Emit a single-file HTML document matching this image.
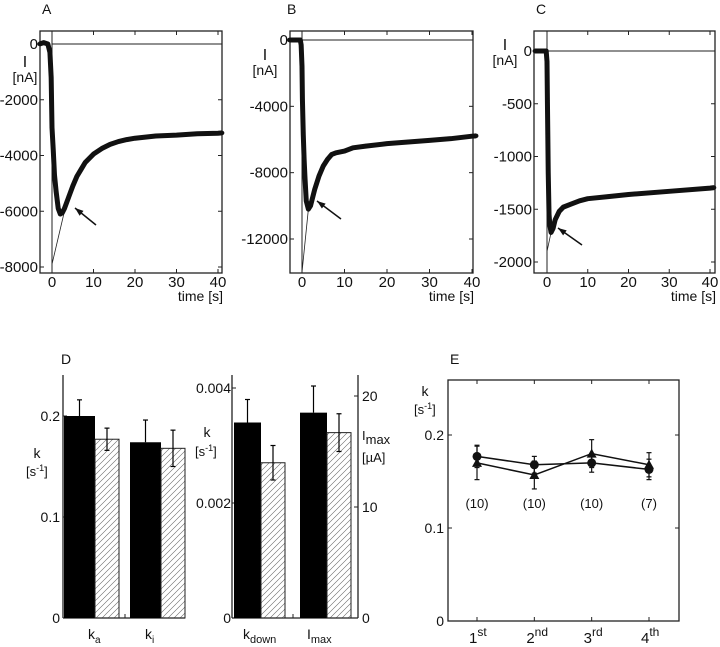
<!DOCTYPE html>
<html><head><meta charset="utf-8"><style>
body{margin:0;background:#fff;}
svg{display:block;font-family:"Liberation Sans",sans-serif;}
text{fill:#111;font-size:13px;}
</style></head><body>
<svg id="fig" width="720" height="647" viewBox="0 0 720 647" xmlns="http://www.w3.org/2000/svg">
<defs><pattern id="hatch" patternUnits="userSpaceOnUse" width="6" height="6"><path d="M0,6 L6,0 M-1,1 L1,-1 M5,7 L7,5" stroke="#666" stroke-width="0.6"/></pattern></defs>
</svg>
<script>
// ---- Panel A data ----
const aTimes=[-3,-2,-1,-0.5,-0.2,0,0.3,0.6,1,1.5,2,2.5,3,4,5,6,7,8,10,12,14,16,18,20,25,30,35,40,41];
const aValues=[0,50,0,-300,-1200,-3000,-3800,-4700,-5300,-5900,-6100,-6050,-5900,-5500,-5100,-4750,-4500,-4250,-3950,-3750,-3600,-3500,-3430,-3380,-3300,-3270,-3220,-3200,-3190];
const aFit=[[0,-7900],[3,-6000]];
const aYTicks=[0,-2000,-4000,-6000,-8000];
// ---- Panel B data ----
const bTimes=[-3,-2,-1,-0.4,-0.2,0,0.1,0.3,0.5,0.7,1,1.5,2,3,4,5,6,7,8,10,12,15,20,25,30,35,40,41];
const bValues=[0,0,0,0,-300,-1600,-3600,-5700,-7200,-8300,-9700,-10200,-10000,-9000,-8200,-7600,-7200,-6900,-6800,-6700,-6500,-6400,-6250,-6150,-6050,-5950,-5800,-5780];
const bFit=[[0,-14000],[1.5,-10200]];
const bYTicks=[0,-4000,-8000,-12000];
// ---- Panel C data ----
const cTimes=[-3,-2,-1,-0.4,-0.2,0,0.1,0.2,0.3,0.5,0.7,1,1.5,2,3,4,6,8,10,15,20,30,40,41];
const cValues=[0,0,0,0,0,-100,-470,-800,-1150,-1550,-1650,-1720,-1680,-1600,-1520,-1480,-1450,-1420,-1400,-1380,-1360,-1330,-1300,-1295];
const cFit=[[0,-1900],[1,-1720]];
const cYTicks=[0,-500,-1000,-1500,-2000];
const xTicks=[0,10,20,30,40];
// ---- Panel D data ----
const dCats=["ka","ki"];
const dBlack=[0.200,0.174];
const dBlackErr=[0.016,0.022];
const dHatch=[0.177,0.168];
const dHatchErr=[0.011,0.018];
const kdownVals=[0.0034,0.0027];
const kdownErr=[0.0004,0.0003];
const imaxVals=[18.5,16.7];
const imaxErr=[2.4,1.7];
// ---- Panel E data ----
const eCats=["1","2","3","4"];
const eCircle=[0.177,0.168,0.170,0.163];
const eCircleErr=[0.012,0.009,0.010,0.011];
const eTri=[0.170,0.157,0.180,0.168];
const eTriErr=[0.018,0.015,0.015,0.013];
const eN=["(10)","(10)","(10)","(7)"];

const NS="http://www.w3.org/2000/svg";
const svg=document.getElementById('fig');
function el(tag,attrs,parent){const e=document.createElementNS(NS,tag);for(const k in attrs)e.setAttribute(k,attrs[k]);(parent||svg).appendChild(e);return e;}
function txt(x,y,s,anchor,size,parent){const t=el('text',{x:x,y:y,'text-anchor':anchor||'start'},parent);if(size)t.style.fontSize=size+'px';t.textContent=s;return t;}
function lin(d0,d1,r0,r1){return v=>r0+(v-d0)*(r1-r0)/(d1-d0);}

function trace2(cfg){
  const L=cfg.L,R=cfg.R;
  const g=el('g',{});
  
  
  const X=lin(0,40,cfg.x0,cfg.x40), Y=lin(cfg.ya[0],cfg.ya[1],cfg.ypx[0],cfg.ypx[1]);
  const fr=el('rect',{x:L,y:cfg.T,width:R-L,height:cfg.B-cfg.T,fill:'none',stroke:'#222','stroke-width':1.3},g);
  
  el('line',{x1:X(0),x2:X(0),y1:cfg.T,y2:cfg.B,stroke:'#222','stroke-width':1},g);
  el('line',{x1:X(0),x2:R,y1:Y(0),y2:Y(0),stroke:'#222','stroke-width':1},g);
  xTicks.forEach(v=>{el('line',{x1:X(v),x2:X(v),y1:cfg.B,y2:cfg.B-4,stroke:'#222'},g);el('line',{x1:X(v),x2:X(v),y1:cfg.T,y2:cfg.T+4,stroke:'#222'},g);
    const t=txt(X(v),cfg.B+14,String(v),'middle',15,g);});
  cfg.yt.forEach(v=>{el('line',{x1:L,x2:L+4,y1:Y(v),y2:Y(v),stroke:'#222'},g);el('line',{x1:R,x2:R-4,y1:Y(v),y2:Y(v),stroke:'#222'},g);
    const t=txt(L-2,Y(v)+5,String(v),'end',15,g);});
  const f=el('line',{x1:X(cfg.fit[0][0]),y1:Y(cfg.fit[0][1]),x2:X(cfg.fit[1][0]),y2:Y(cfg.fit[1][1]),stroke:'#222','stroke-width':0.8},g);
  
  const pts=cfg.t.map((t,i)=>X(t)+','+Y(cfg.v[i])).join(' ');
  const pl=el('polyline',{points:pts,fill:'none',stroke:'#111','stroke-width':cfg.sw,'stroke-linejoin':'round'},g);
  
  cfg.t.forEach((t,i)=>{const c=el('circle',{cx:X(t),cy:Y(cfg.v[i]),r:2.2,fill:'#111'},g);});
  const a=cfg.arrow;
  const ar=el('line',{x1:a[0],y1:a[1],x2:a[2],y2:a[3],stroke:'#111','stroke-width':1.5},g);
  
  const ang=Math.atan2(a[3]-a[1],a[2]-a[0]);
  const hp=[[a[2],a[3]],[a[2]-9*Math.cos(ang-0.35),a[3]-9*Math.sin(ang-0.35)],[a[2]-9*Math.cos(ang+0.35),a[3]-9*Math.sin(ang+0.35)]];
  el('polygon',{points:hp.map(p=>p.join(',')).join(' '),fill:'#111'},g);
  const pl2=txt(cfg.lab[0],cfg.lab[1],cfg.letter,'start',14,g);
  const yl=txt(cfg.yl[0],cfg.yl[1],'I','middle',16,g);
  const yu=txt(cfg.yl[0],cfg.yl[1]+15,'[nA]','middle',14,g);
  const xl=txt(R+1,cfg.B+28,'time [s]','end',14,g);
}
trace2({name:'panel-a',L:40,R:222,T:31,B:273,x0:52,x40:218,ya:[0,-8000],ypx:[44,267],yt:aYTicks,t:aTimes,v:aValues,fit:aFit,sw:5,arrow:[96,225,75,208],lab:[42,14],letter:'A',yl:[25,67]});
trace2({name:'panel-b',L:290,R:473,T:31,B:273,x0:302,x40:472,ya:[0,-12000],ypx:[40,239],yt:bYTicks,t:bTimes,v:bValues,fit:bFit,sw:5,arrow:[341,219,317,201],lab:[287,14],letter:'B',yl:[265,60]});
trace2({name:'panel-c',L:534,R:715,T:31,B:273,x0:547,x40:710,ya:[0,-2000],ypx:[51,262],yt:cYTicks,t:cTimes,v:cValues,fit:cFit,sw:5,arrow:[582,245,558,228],lab:[536,14],letter:'C',yl:[505,50]});

// ---- Panel D ----
(function(){
  const g=el('g',{});
  
  
  const l=txt(61,364,'D','start',14,g);
  const Y=lin(0,0.2,618,416);
  el('line',{x1:63,x2:63,y1:375,y2:618,stroke:'#222','stroke-width':1.3},g);
  el('line',{x1:63,x2:185,y1:618,y2:618,stroke:'#222','stroke-width':1.3},g);
  el('line',{x1:125,x2:125,y1:618,y2:614,stroke:'#222'},g);
  [0,0.1,0.2].forEach(v=>{el('line',{x1:63,x2:67,y1:Y(v),y2:Y(v),stroke:'#222'},g);const t=txt(60,Y(v)+5,String(v),'end',14,g);});
  const gx=[64,130];
  dCats.forEach((c,i)=>{
    const x=gx[i];
    const b=el('rect',{x:x,y:Y(dBlack[i]),width:31,height:618-Y(dBlack[i]),fill:'#000'},g);
    el('line',{x1:x+15.5,x2:x+15.5,y1:Y(dBlack[i]),y2:Y(dBlack[i]+dBlackErr[i]),stroke:'#000','stroke-width':1.2},g);
    el('line',{x1:x+13,x2:x+18,y1:Y(dBlack[i]+dBlackErr[i]),y2:Y(dBlack[i]+dBlackErr[i]),stroke:'#000','stroke-width':1.2},g);
    const h=el('rect',{x:x+31,y:Y(dHatch[i]),width:24,height:618-Y(dHatch[i]),fill:'url(#hatch)',stroke:'#222','stroke-width':1},g);
    const cx=x+43;
    el('line',{x1:cx,x2:cx,y1:Y(dHatch[i]-dHatchErr[i]),y2:Y(dHatch[i]+dHatchErr[i]),stroke:'#000','stroke-width':1.2},g);
    [dHatch[i]-dHatchErr[i],dHatch[i]+dHatchErr[i]].forEach(v=>el('line',{x1:cx-2.5,x2:cx+2.5,y1:Y(v),y2:Y(v),stroke:'#000','stroke-width':1.2},g));
  });
  const t1=el('text',{x:88,y:639},g);t1.innerHTML='k<tspan dy="4" font-size="10">a</tspan>';t1.style.fontSize='14px';
  const t2=el('text',{x:145,y:639},g);t2.innerHTML='k<tspan dy="4" font-size="10">i</tspan>';t2.style.fontSize='14px';
  const yk=txt(37,458,'k','middle',14,g);
  const yu=el('text',{x:26,y:476},g);yu.innerHTML='[s<tspan dy="-5" font-size="9">-1</tspan><tspan dy="5">]</tspan>';
  const Y2=lin(0,0.002,618,503), Y3=lin(0,10,618,507);
  el('line',{x1:232,x2:232,y1:375,y2:618,stroke:'#222','stroke-width':1.3},g);
  el('line',{x1:358,x2:358,y1:375,y2:618,stroke:'#222','stroke-width':1.3},g);
  el('line',{x1:232,x2:358,y1:618,y2:618,stroke:'#222','stroke-width':1.3},g);
  el('line',{x1:293,x2:293,y1:618,y2:614,stroke:'#222'},g);
  [[0,'0'],[0.002,'0.002'],[0.004,'0.004']].forEach(([v,s])=>{el('line',{x1:232,x2:236,y1:Y2(v),y2:Y2(v),stroke:'#222'},g);const t=txt(231,Y2(v)+5,s,'end',14,g);});
  [0,10,20].forEach(v=>{el('line',{x1:358,x2:354,y1:Y3(v),y2:Y3(v),stroke:'#222'},g);const t=txt(362,Y3(v)+5,String(v),'start',14,g);});
  function pair(x,vals,errs,Yf,nm){
    const b=el('rect',{x:x,y:Yf(vals[0]),width:27,height:618-Yf(vals[0]),fill:'#000'},g);
    el('line',{x1:x+13.5,x2:x+13.5,y1:Yf(vals[0]),y2:Yf(vals[0]+errs[0]),stroke:'#000','stroke-width':1.2},g);
    el('line',{x1:x+11,x2:x+16,y1:Yf(vals[0]+errs[0]),y2:Yf(vals[0]+errs[0]),stroke:'#000','stroke-width':1.2},g);
    const h=el('rect',{x:x+27,y:Yf(vals[1]),width:24,height:618-Yf(vals[1]),fill:'url(#hatch)',stroke:'#222','stroke-width':1},g);
    const cx=x+39;
    el('line',{x1:cx,x2:cx,y1:Yf(vals[1]-errs[1]),y2:Yf(vals[1]+errs[1]),stroke:'#000','stroke-width':1.2},g);
    [vals[1]-errs[1],vals[1]+errs[1]].forEach(v=>el('line',{x1:cx-2.5,x2:cx+2.5,y1:Yf(v),y2:Yf(v),stroke:'#000','stroke-width':1.2},g));
  }
  pair(234,kdownVals,kdownErr,Y2,'kdown');
  pair(300,imaxVals,imaxErr,Y3,'imax');
  const t3=el('text',{x:243,y:639},g);t3.innerHTML='k<tspan dy="4" font-size="11">down</tspan>';t3.style.fontSize='14px';
  const t4=el('text',{x:307,y:639},g);t4.innerHTML='I<tspan dy="4" font-size="11">max</tspan>';t4.style.fontSize='14px';
  const yk2=txt(207,437,'k','middle',14,g);
  const yu2=el('text',{x:195,y:456},g);yu2.innerHTML='[s<tspan dy="-5" font-size="9">-1</tspan><tspan dy="5">]</tspan>';
  const ri=el('text',{x:362,y:440},g);ri.innerHTML='I<tspan dy="4" font-size="13">max</tspan>';
  const ru=txt(362,462,'[µA]','start',13,g);
})();

// ---- Panel E ----
(function(){
  const g=el('g',{});
  
  
  const L=448,R=679,T=380,B=621;
  const X=lin(1,4,477,649), Y=lin(0,0.1,621,528);
  const l=txt(450,364,'E','start',14,g);
  el('rect',{x:L,y:T,width:R-L,height:B-T,fill:'none',stroke:'#222','stroke-width':1.3},g);
  [0,0.1,0.2].forEach(v=>{el('line',{x1:L,x2:L+4,y1:Y(v),y2:Y(v),stroke:'#222'},g);el('line',{x1:R,x2:R-4,y1:Y(v),y2:Y(v),stroke:'#222'},g);
    const t=txt(L-4,Y(v)+5,String(v),'end',14,g);});
  const sup=['st','nd','rd','th'];
  eCats.forEach((c,i)=>{el('line',{x1:X(i+1),x2:X(i+1),y1:B,y2:B-4,stroke:'#222'},g);el('line',{x1:X(i+1),x2:X(i+1),y1:T,y2:T+4,stroke:'#222'},g);
    const t=el('text',{x:X(i+1)-8,y:643},g);t.innerHTML=c+'<tspan dy="-7" font-size="12">'+sup[i]+'</tspan>';t.style.fontSize='15px';
    const n=txt(X(i+1),508,eN[i],'middle',13,g);});
  function series(vals,errs,nm,tri){
    const pl=el('polyline',{points:vals.map((v,i)=>X(i+1)+','+Y(v)).join(' '),fill:'none',stroke:'#111','stroke-width':1.5},g);
    
    vals.forEach((v,i)=>{const x=X(i+1);
      el('line',{x1:x,x2:x,y1:Y(v-errs[i]),y2:Y(v+errs[i]),stroke:'#111','stroke-width':1.2},g);
      [v-errs[i],v+errs[i]].forEach(w=>el('line',{x1:x-2.5,x2:x+2.5,y1:Y(w),y2:Y(w),stroke:'#111','stroke-width':1.2},g));
      let m; if(tri){const y=Y(v);m=el('polygon',{points:`${x},${y-5} ${x-5},${y+4} ${x+5},${y+4}`,fill:'#111'},g);}
      else m=el('circle',{cx:x,cy:Y(v),r:4.5,fill:'#111'},g);
      });
  }
  series(eTri,eTriErr,'triangle-series',true);
  series(eCircle,eCircleErr,'circle-series',false);
  const yk=txt(425,396,'k','middle',14,g);
  const yu=el('text',{x:414,y:414},g);yu.innerHTML='[s<tspan dy="-5" font-size="9">-1</tspan><tspan dy="5">]</tspan>';
})();
</script>
</body></html>
